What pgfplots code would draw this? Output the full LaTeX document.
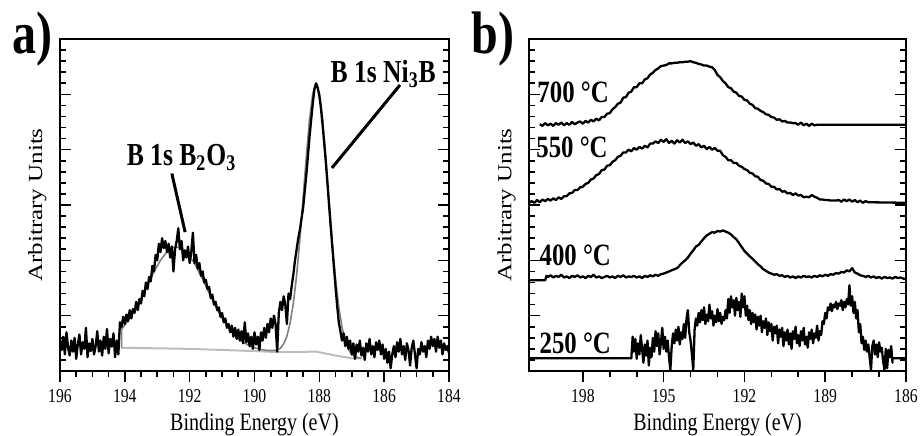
\documentclass[border=0pt]{standalone}
\usepackage{fontspec}
\setmainfont{Liberation Serif}[FakeStretch=0.8]
\newfontfamily\ylabfont{Liberation Serif}[FakeStretch=1.25]
\usepackage{pgfplots}
\pgfplotsset{compat=1.18}
\definecolor{fitgray}{gray}{0.50}
\definecolor{bggray}{gray}{0.74}
\pgfplotsset{
 myax/.style={
  scale only axis, height=166pt,
  x dir=reverse, ymin=0, ymax=6,
  ytick={0,...,6}, yticklabels={}, minor y tick num=4,
  xtick pos=left, xtick align=outside, ytick align=inside,
  major tick length=5.5pt, minor tick length=3pt,
  tick style={line width=0.8pt, black},
  axis line style={line width=1.3pt},
  /pgf/number format/assume math mode=true,
  xticklabel style={font=\fontsize{9.8}{10}\selectfont, anchor=base, yshift=-10pt},
  xlabel={Binding Energy (eV)},
  xlabel style={font=\fontsize{12.5}{14}\selectfont, at={(axis description cs:0.5,0)}, anchor=base, yshift=-29.5pt},
  ylabel={\ylabfont Arbitrary Units},
  ylabel style={font=\fontsize{10}{12}\selectfont, at={(axis description cs:-0.034,0.5)}, anchor=south, inner sep=0pt},
  every axis plot/.append style={line join=round},
 }
}
\begin{document}
\begin{tikzpicture}
% ---------------- panel a ----------------
\begin{axis}[myax, name=a, width=194.5pt, xmin=184, xmax=196,
  xtick={184,186,...,196}, minor x tick num=3]
% background
\addplot[bggray, line width=1pt] coordinates {(194.1,0.42) (193,0.41) (192,0.40) (191,0.38) (190,0.36) (189.2,0.34) (188.1,0.35) (187.5,0.28) (187,0.23) (186.7,0.23)};
% fit envelope
\addplot[fitgray, line width=0.8pt] table {
194.1 0.42
194.1 0.75
194.0 0.83
193.9 0.91
193.8 1.00
193.7 1.10
193.6 1.20
193.5 1.31
193.4 1.43
193.3 1.55
193.2 1.67
193.1 1.79
193.0 1.90
192.9 2.00
192.8 2.08
192.7 2.15
192.6 2.20
192.5 2.23
192.4 2.24
192.3 2.23
192.2 2.20
192.1 2.14
192.0 2.07
191.9 1.99
191.8 1.89
191.7 1.77
191.6 1.66
191.5 1.53
191.4 1.41
191.3 1.29
191.2 1.17
191.1 1.06
191.0 0.96
190.9 0.87
190.8 0.78
190.7 0.71
190.6 0.64
190.5 0.59
190.4 0.54
190.2 0.47
190.0 0.42
189.8 0.39
189.6 0.37
189.4 0.37
189.3 0.38
189.2 0.41
189.1 0.49
189.0 0.63
188.9 0.87
188.8 1.23
188.7 1.73
188.6 2.38
188.5 3.13
188.4 3.89
188.3 4.56
188.2 5.02
188.1 5.19
188.0 5.02
187.9 4.55
187.8 3.87
187.7 3.09
187.6 2.33
187.5 1.67
187.4 1.16
187.3 0.79
187.2 0.54
187.1 0.39
187.0 0.30
186.9 0.26
186.8 0.24
186.7 0.23
};
% measured data
\addplot[black, line width=1.15pt] table {
196.00 0.55
195.95 0.38
195.90 0.62
195.85 0.30
195.80 0.70
195.75 0.42
195.70 0.28
195.65 0.55
195.60 0.35
195.55 0.60
195.50 0.22
195.45 0.48
195.40 0.66
195.35 0.30
195.30 0.52
195.25 0.40
195.20 0.78
195.15 0.25
195.10 0.50
195.05 0.36
195.00 0.58
194.95 0.30
194.90 0.45
194.85 0.72
194.80 0.35
194.75 0.55
194.70 0.28
194.65 0.62
194.60 0.40
194.55 0.76
194.50 0.32
194.45 0.58
194.40 0.44
194.35 0.68
194.30 0.25
194.25 0.55
194.20 0.30
194.15 0.88
194.10 0.80
194.05 0.98
194.00 0.85
193.95 1.02
193.90 0.90
193.85 1.10
193.80 0.95
193.75 1.12
193.70 1.05
193.65 1.25
193.60 1.10
193.55 1.30
193.50 1.22
193.45 1.45
193.40 1.35
193.35 1.60
193.30 1.48
193.25 1.70
193.20 1.62
193.15 1.90
193.10 1.80
193.05 2.10
193.00 2.00
192.95 2.30
192.90 2.15
192.85 2.40
192.80 2.22
192.75 2.35
192.70 2.15
192.65 2.30
192.60 2.05
192.55 2.25
192.50 1.80
192.45 2.20
192.40 2.35
192.35 2.58
192.30 2.20
192.25 2.35
192.20 2.00
192.15 2.18
192.10 2.05
192.05 2.25
192.00 1.95
191.95 2.15
191.90 2.50
191.85 1.95
191.80 2.10
191.75 1.85
191.70 1.95
191.65 1.72
191.60 1.80
191.55 1.60
191.50 1.65
191.45 1.48
191.40 1.52
191.35 1.32
191.30 1.38
191.25 1.20
191.20 1.25
191.15 1.10
191.10 1.15
191.05 0.98
191.00 1.05
190.95 0.88
190.90 0.95
190.85 0.78
190.80 0.85
190.75 0.70
190.70 0.82
190.65 0.62
190.60 0.78
190.55 0.58
190.50 0.75
190.45 0.55
190.40 0.72
190.35 0.50
190.30 0.88
190.25 0.52
190.20 0.68
190.15 0.45
190.10 0.62
190.05 0.40
190.00 0.70
189.95 0.48
189.90 0.62
189.85 0.38
189.80 0.70
189.75 0.55
189.70 0.78
189.65 0.60
189.60 0.85
189.55 0.70
189.50 0.95
189.45 0.78
189.40 1.00
189.35 0.85
189.30 0.35
189.25 1.05
189.20 1.25
189.15 1.10
189.10 1.35
189.05 1.20
189.00 0.85
188.95 1.40
188.90 1.30
188.85 1.55
188.80 1.75
188.75 2.00
188.70 2.20
188.65 2.40
188.60 2.55
188.55 2.75
188.50 2.95
188.45 3.25
188.40 3.55
188.35 3.90
188.30 4.25
188.25 4.55
188.20 4.85
188.15 5.10
188.10 5.20
188.05 5.12
188.00 4.98
187.95 4.75
187.90 4.45
187.85 4.12
187.80 3.78
187.75 3.40
187.70 3.00
187.65 2.62
187.60 2.25
187.55 1.88
187.50 1.52
187.45 1.18
187.40 0.88
187.35 0.72
187.30 0.55
187.25 0.68
187.20 0.45
187.15 0.62
187.10 0.40
187.05 0.55
187.00 0.30
186.95 0.50
186.90 0.22
186.85 0.48
186.80 0.35
186.75 0.55
186.70 0.28
186.65 0.42
186.60 0.20
186.55 0.50
186.50 0.35
186.45 0.58
186.40 0.30
186.35 0.45
186.30 0.25
186.25 0.52
186.20 0.38
186.15 0.55
186.10 0.30
186.05 0.48
186.00 0.22
185.95 0.40
185.90 0.15
185.85 0.35
185.80 0.05
185.75 0.30
185.70 0.45
185.65 0.25
185.60 0.52
185.55 0.35
185.50 0.58
185.45 0.30
185.40 0.45
185.35 0.20
185.30 0.50
185.25 0.38
185.20 0.10
185.15 0.42
185.10 0.55
185.05 0.30
185.00 0.05
184.95 0.40
184.90 0.30
184.85 0.52
184.80 0.35
184.75 0.45
184.70 0.25
184.65 0.55
184.60 0.40
184.55 0.62
184.50 0.45
184.45 0.58
184.40 0.35
184.35 0.62
184.30 0.42
184.25 0.55
184.20 0.30
184.15 0.50
184.10 0.38
184.05 0.45
184.00 0.32
};
\node[anchor=base, font=\bfseries\fontsize{16}{16}\selectfont, inner sep=0pt] at (axis cs:192.25,3.71) {B 1s B\textsubscript{2}O\textsubscript{3}};
\draw[line width=1.5pt] (axis cs:192.55,3.57) -- (axis cs:192.14,2.51);
\node[anchor=base, font=\bfseries\fontsize{16}{16}\selectfont, inner sep=0pt] at (axis cs:186.03,5.21) {B 1s Ni\textsubscript{3}B};
\draw[line width=1.5pt] (axis cs:185.51,5.17) -- (axis cs:187.61,3.67);
\end{axis}
% ---------------- panel b ----------------
\begin{axis}[myax, name=b, at={(234.5pt,0pt)}, anchor=south west, width=188.5pt,
  xmin=186, xmax=200, xtick={186,189,...,198}, minor x tick num=2]
% 700 C
\addplot[black, line width=1.15pt] table {
199.6 4.46
199.5 4.43
199.4 4.48
199.3 4.44
199.2 4.47
199.1 4.43
199.0 4.48
198.9 4.45
198.8 4.49
198.7 4.44
198.6 4.48
198.5 4.45
198.4 4.50
198.3 4.46
198.2 4.49
198.1 4.51
198.0 4.47
197.9 4.52
197.8 4.49
197.7 4.54
197.6 4.51
197.5 4.56
197.4 4.53
197.3 4.59
197.2 4.59
197.1 4.65
197.0 4.66
196.9 4.73
196.8 4.77
196.7 4.83
196.6 4.85
196.5 4.94
196.4 4.95
196.3 5.03
196.2 5.05
196.1 5.13
196.0 5.13
195.9 5.20
195.8 5.20
195.7 5.27
195.6 5.29
195.5 5.36
195.4 5.39
195.3 5.44
195.2 5.47
195.1 5.51
195.0 5.52
194.9 5.53
194.8 5.56
194.7 5.56
194.6 5.57
194.5 5.57
194.4 5.58
194.3 5.58
194.2 5.59
194.1 5.59
194.0 5.60
193.9 5.58
193.8 5.57
193.7 5.55
193.6 5.54
193.5 5.52
193.4 5.52
193.3 5.50
193.2 5.49
193.1 5.44
193.0 5.35
192.9 5.31
192.8 5.24
192.7 5.20
192.6 5.13
192.5 5.11
192.4 5.05
192.3 5.03
192.2 4.97
192.1 4.96
192.0 4.90
191.9 4.89
191.8 4.83
191.7 4.81
191.6 4.75
191.5 4.74
191.4 4.70
191.3 4.68
191.2 4.64
191.1 4.63
191.0 4.59
190.9 4.58
190.8 4.54
190.7 4.55
190.6 4.51
190.5 4.52
190.4 4.49
190.3 4.49
190.2 4.48
190.1 4.48
190.0 4.45
189.9 4.49
189.8 4.44
189.7 4.47
189.6 4.43
189.5 4.47
189.4 4.44
189.3 4.45
186.0 4.45
};
% 550 C
\addplot[black, line width=1.15pt] table {
200.0 3.04
199.9 3.07
199.8 3.04
199.7 3.09
199.6 3.05
199.5 3.10
199.4 3.07
199.3 3.11
199.2 3.08
199.1 3.12
199.0 3.09
198.9 3.14
198.8 3.11
198.7 3.16
198.6 3.16
198.5 3.21
198.4 3.22
198.3 3.27
198.2 3.27
198.1 3.32
198.0 3.33
197.9 3.38
197.8 3.40
197.7 3.46
197.6 3.48
197.5 3.54
197.4 3.56
197.3 3.63
197.2 3.64
197.1 3.71
197.0 3.72
196.9 3.78
196.8 3.81
196.7 3.87
196.6 3.89
196.5 3.95
196.4 3.95
196.3 4.00
196.2 3.97
196.1 4.03
196.0 4.00
195.9 4.05
195.8 4.02
195.7 4.07
195.6 4.04
195.5 4.11
195.4 4.11
195.3 4.15
195.2 4.12
195.1 4.18
195.0 4.14
194.9 4.19
194.8 4.12
194.7 4.16
194.6 4.11
194.5 4.17
194.4 4.13
194.3 4.18
194.2 4.12
194.1 4.15
194.0 4.10
193.9 4.13
193.8 4.07
193.7 4.10
193.6 4.04
193.5 4.07
193.4 4.01
193.3 4.05
193.2 4.00
193.1 4.03
193.0 3.98
192.9 3.98
192.8 3.90
192.7 3.87
192.6 3.81
192.5 3.81
192.4 3.76
192.3 3.76
192.2 3.71
192.1 3.69
192.0 3.65
191.9 3.63
191.8 3.58
191.7 3.57
191.6 3.52
191.5 3.51
191.4 3.45
191.3 3.44
191.2 3.39
191.1 3.38
191.0 3.33
190.9 3.33
190.8 3.28
190.7 3.29
190.6 3.24
190.5 3.25
190.4 3.21
190.3 3.22
190.2 3.18
190.1 3.21
190.0 3.17
189.9 3.18
189.8 3.14
189.7 3.15
189.6 3.14
189.5 3.18
189.4 3.15
189.3 3.13
189.2 3.10
189.1 3.10
189.0 3.09
188.9 3.09
188.8 3.08
188.7 3.08
188.6 3.08
188.5 3.09
188.4 3.06
188.3 3.10
188.2 3.07
188.1 3.10
188.0 3.06
187.9 3.09
187.8 3.05
187.7 3.08
187.6 3.04
187.5 3.07
187.4 3.05
186.0 3.04
};
% 400 C
\addplot[black, line width=1.15pt] table {
200.0 1.64
199.40 1.64
199.35 1.72
199.3 1.70
199.2 1.73
199.1 1.69
199.0 1.72
198.9 1.70
198.8 1.74
198.7 1.69
198.6 1.71
198.5 1.68
198.4 1.72
198.3 1.70
198.2 1.73
198.1 1.69
198.0 1.71
197.9 1.68
197.8 1.72
197.7 1.70
197.6 1.74
197.5 1.69
197.4 1.71
197.3 1.68
197.2 1.70
197.1 1.72
197.0 1.69
196.9 1.71
196.8 1.68
196.7 1.72
196.6 1.70
196.5 1.73
196.4 1.69
196.3 1.71
196.2 1.70
196.1 1.72
196.0 1.69
195.9 1.71
195.8 1.68
195.7 1.72
195.6 1.70
195.5 1.73
195.4 1.71
195.3 1.74
195.2 1.72
195.1 1.75
195.0 1.76
194.9 1.78
194.8 1.80
194.7 1.82
194.6 1.84
194.5 1.86
194.4 1.91
194.3 1.96
194.2 2.00
194.1 2.05
194.0 2.12
193.9 2.18
193.8 2.25
193.7 2.28
193.6 2.34
193.5 2.40
193.4 2.45
193.3 2.48
193.2 2.51
193.1 2.50
193.0 2.53
192.9 2.52
192.8 2.54
192.7 2.52
192.6 2.50
192.5 2.47
192.4 2.42
192.3 2.38
192.2 2.31
192.1 2.24
192.0 2.17
191.9 2.12
191.8 2.07
191.7 2.03
191.6 1.98
191.5 1.93
191.4 1.89
191.3 1.84
191.2 1.81
191.1 1.78
191.0 1.76
190.9 1.74
190.8 1.75
190.7 1.72
190.6 1.73
190.5 1.70
190.4 1.72
190.3 1.69
190.2 1.71
190.1 1.68
190.0 1.71
189.9 1.69
189.8 1.72
189.7 1.70
189.6 1.71
189.5 1.69
189.4 1.72
189.3 1.70
189.2 1.73
189.1 1.71
189.0 1.74
188.9 1.72
188.8 1.75
188.7 1.74
188.6 1.77
188.5 1.76
188.4 1.79
188.3 1.78
188.2 1.82
188.1 1.80
188.0 1.86
187.9 1.78
187.8 1.76
187.7 1.73
187.6 1.72
187.5 1.70
187.4 1.72
187.3 1.69
187.2 1.71
187.1 1.68
187.0 1.70
186.9 1.67
186.8 1.70
186.7 1.68
186.6 1.69
186.5 1.67
186.4 1.70
186.3 1.68
186.2 1.69
186.1 1.67
186.0 1.66
};
% 250 C
\addplot[black, line width=1.15pt] table {
200.00 0.23
196.20 0.23
196.15 0.62
196.10 0.35
196.05 0.58
196.00 0.22
195.95 0.50
195.90 0.30
195.85 0.65
195.80 0.40
195.75 0.15
195.70 0.48
195.65 0.28
195.60 0.55
195.55 0.10
195.50 0.42
195.45 0.25
195.40 0.60
195.35 0.35
195.30 0.72
195.25 0.45
195.20 0.68
195.15 0.30
195.10 0.52
195.05 0.78
195.00 0.40
194.95 0.62
194.90 0.35
194.85 0.55
194.80 0.25
194.75 0.02
194.70 0.45
194.65 0.68
194.60 0.50
194.55 0.75
194.50 0.55
194.45 0.80
194.40 0.48
194.35 0.70
194.30 0.58
194.25 0.85
194.20 0.60
194.15 0.95
194.10 1.10
194.05 0.70
194.00 0.55
193.95 0.30
193.90 0.02
193.85 0.75
193.80 0.95
193.75 0.82
193.70 1.05
193.65 0.88
193.60 1.10
193.55 0.92
193.50 1.15
193.45 0.85
193.40 1.02
193.35 0.90
193.30 1.20
193.25 0.95
193.20 1.08
193.15 0.82
193.10 1.00
193.05 0.88
193.00 1.12
192.95 0.90
192.90 1.05
192.85 0.85
192.80 0.98
192.75 0.92
192.70 1.10
192.65 0.95
192.60 1.30
192.55 1.05
192.50 1.35
192.45 1.15
192.40 1.28
192.35 1.00
192.30 1.32
192.25 1.10
192.20 1.25
192.15 0.98
192.10 1.40
192.05 1.15
192.00 1.35
191.95 1.00
191.90 1.18
191.85 0.92
191.80 1.10
191.75 0.85
191.70 1.05
191.65 0.88
191.60 1.02
191.55 0.75
191.50 0.98
191.45 0.82
191.40 1.00
191.35 0.70
191.30 0.90
191.25 0.78
191.20 0.95
191.15 0.65
191.10 0.88
191.05 0.72
191.00 0.85
190.95 0.55
190.90 0.80
190.85 0.68
190.80 0.82
190.75 0.50
190.70 0.75
190.65 0.62
190.60 0.78
190.55 0.45
190.50 0.70
190.45 0.55
190.40 0.75
190.35 0.48
190.30 0.68
190.25 0.40
190.20 0.72
190.15 0.58
190.10 0.80
190.05 0.50
190.00 0.65
189.95 0.45
189.90 0.72
189.85 0.55
189.80 0.78
189.75 0.48
189.70 0.62
189.65 0.42
189.60 0.70
189.55 0.58
189.50 0.75
189.45 0.50
189.40 0.68
189.35 0.60
189.30 0.82
189.25 0.55
189.20 0.72
189.15 0.65
189.10 0.90
189.05 0.85
189.00 1.05
188.95 0.95
188.90 1.15
188.85 1.10
188.80 1.22
188.75 1.08
188.70 1.20
188.65 1.15
188.60 1.25
188.55 1.12
188.50 1.22
188.45 1.18
188.40 1.28
188.35 1.10
188.30 1.25
188.25 1.15
188.20 1.30
188.15 1.20
188.10 1.55
188.05 1.18
188.00 1.35
187.95 1.05
187.90 1.25
187.85 0.95
187.80 1.10
187.75 0.70
187.70 0.85
187.65 0.50
187.60 0.62
187.55 0.38
187.50 0.55
187.45 0.35
187.40 0.48
187.35 0.25
187.30 0.02
187.25 0.45
187.20 0.55
187.15 0.30
187.10 0.48
187.05 0.25
187.00 0.52
186.95 0.35
186.90 0.42
186.85 0.18
186.80 0.02
186.75 0.40
186.70 0.05
186.65 0.38
186.60 0.25
186.55 0.45
186.50 0.15
186.50 0.23
186.00 0.23
};
\node[anchor=base west, font=\bfseries\fontsize{15.5}{16}\selectfont, inner sep=0pt] at (axis cs:199.70,4.85) {700 °C};
\node[anchor=base west, font=\bfseries\fontsize{15.5}{16}\selectfont, inner sep=0pt] at (axis cs:199.74,3.86) {550 °C};
\node[anchor=base west, font=\bfseries\fontsize{15.5}{16}\selectfont, inner sep=0pt] at (axis cs:199.62,1.91) {400 °C};
\node[anchor=base west, font=\bfseries\fontsize{15.5}{16}\selectfont, inner sep=0pt] at (axis cs:199.62,0.32) {250 °C};
\end{axis}
\node[anchor=base west, font=\bfseries\fontsize{30}{30}\selectfont, inner sep=0pt] at (-24pt,159pt) {a)};
\node[anchor=base west, font=\bfseries\fontsize{30}{30}\selectfont, inner sep=0pt] at (205.5pt,159pt) {b)};
\pgfresetboundingbox
\path[use as bounding box] (-30pt,-32pt) rectangle (431pt,185.5pt);
\end{tikzpicture}
\end{document}
